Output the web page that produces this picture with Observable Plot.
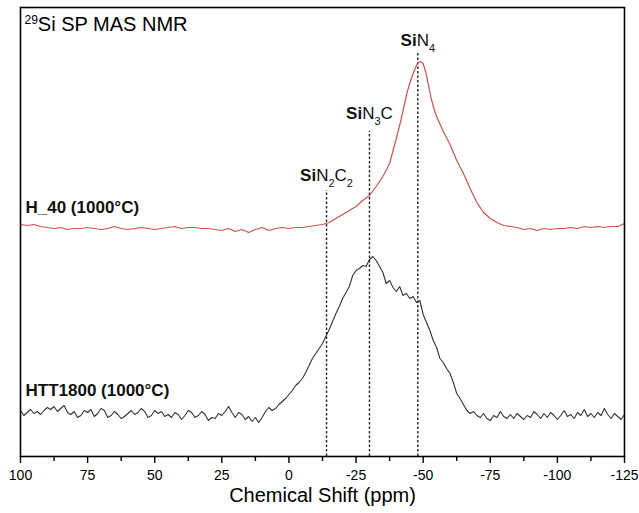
<!DOCTYPE html>
<html><head><meta charset="utf-8">
<script src="https://cdn.jsdelivr.net/npm/d3@7"></script>
<script src="https://cdn.jsdelivr.net/npm/@observablehq/plot@0.6"></script>
<style>
body{margin:0;background:#fff;}
#chart svg{font-family:"Liberation Sans", Arial, sans-serif;}
</style></head><body><div id="chart"></div>
<script>
// Spectra: [chemical shift (ppm), intensity relative to own baseline (a.u.)]
const h40 = [[100,4],[97.5,3],[95,4],[92.5,2],[90,1],[87.5,0],[85,1],[82.5,-1],[80,0],[77.5,0],[75,1],[72.5,0],[70,-1],[67.5,0],[65,2],[62.5,0],[60,-1],[57.5,0],[55,1],[52.5,0],[50,-1],[47.5,0],[45,1],[42.5,2],[40,0],[37.5,1],[35,1],[32.5,0],[30,0],[27.5,-1],[25,-2],[22.5,0],[20,-3],[17.5,-1],[15,-4],[12.5,-1],[10,1],[7.5,-2],[5,0],[2.5,1],[0,0],[-2.5,1],[-5,1],[-7.5,2],[-10,3],[-12.5,4],[-15,6],[-17.5,10],[-20,14],[-22.5,18],[-25,22],[-27.5,28],[-30,33],[-32.5,42],[-35,52],[-37.5,65],[-40,90],[-41.5,106],[-42.5,118],[-44,136],[-45,145],[-46,153],[-47,160],[-48,166],[-49,167],[-50,165],[-51,156],[-52,143],[-53,130],[-54,120],[-55,112],[-57.5,97],[-60,84],[-62.5,68],[-65,55],[-67.5,40],[-70,26],[-72.5,16],[-75,10],[-77.5,6],[-80,3],[-82.5,2],[-85,1],[-87.5,-1],[-90,0],[-92.5,-2],[-95,0],[-97.5,-1],[-100,0],[-102.5,0],[-105,1],[-107.5,0],[-110,2],[-112.5,1],[-115,2],[-117.5,1],[-120,2],[-122.5,2],[-125,5]];

const htt1800 = [[100,4],[98.75,-1],[97.5,2],[96.25,5],[95,1],[93.75,3],[92.5,0],[91.25,4],[90,7],[88.75,5],[87.5,8],[86.25,3],[85,6],[83.75,9],[82.5,2],[81.25,0],[80,3],[78.75,-3],[77.5,-1],[76.25,4],[75,2],[73.75,5],[72.5,-2],[71.25,1],[70,6],[68.75,4],[67.5,-3],[66.25,-1],[65,3],[63.75,0],[62.5,-4],[61.25,-2],[60,1],[58.75,4],[57.5,0],[56.25,2],[55,6],[53.75,3],[52.5,-3],[51.25,-1],[50,4],[48.75,1],[47.5,3],[46.25,-2],[45,0],[43.75,-3],[42.5,2],[41.25,0],[40,-5],[38.75,-1],[37.5,4],[36.25,2],[35,-3],[33.75,-1],[32.5,3],[31.25,0],[30,-6],[28.75,-3],[27.5,-4],[26.25,1],[25,-1],[23.75,3],[22.5,8],[21.25,2],[20,-3],[18.75,2],[17.5,0],[16.25,-5],[15,-2],[13.75,-7],[12.5,-3],[11.25,-8],[10,-3],[8.75,3],[7.5,7],[6.25,4],[5,6],[3.75,10],[2.5,13],[1.25,16],[0,20],[-1.25,24],[-2.5,29],[-3.75,32],[-5,36],[-6.25,42],[-7.5,49],[-8.75,56],[-10,61],[-11.25,66],[-12.5,71],[-13.75,78],[-15,85],[-16.25,93],[-17.5,101],[-18.75,108],[-20,116],[-21.25,122],[-22.5,128],[-23.75,139],[-25,144],[-26.25,146],[-27.5,149],[-28.75,148],[-30,155],[-31.25,158],[-32.5,154],[-33.75,148],[-35,142],[-36.25,131],[-37.5,134],[-38.75,127],[-40,123],[-41.25,128],[-42.5,119],[-43.75,121],[-45,116],[-46.25,118],[-47.5,112],[-48.75,114],[-50,100],[-51.25,92],[-52.5,84],[-53.75,74],[-55,67],[-56.25,56],[-57.5,52],[-58.75,46],[-60,41],[-61.25,32],[-62.5,21],[-63.75,16],[-65,10],[-66.25,4],[-67.5,1],[-68.75,3],[-70,-1],[-71.25,-3],[-72.5,1],[-73.75,-4],[-75,-6],[-76.25,-1],[-77.5,-3],[-78.75,3],[-80,-2],[-81.25,-4],[-82.5,0],[-83.75,-4],[-85,1],[-86.25,-2],[-87.5,-5],[-88.75,-1],[-90,-3],[-91.25,3],[-92.5,0],[-93.75,-4],[-95,1],[-96.25,-3],[-97.5,2],[-98.75,-1],[-100,-5],[-101.25,-1],[-102.5,4],[-103.75,-2],[-105,0],[-106.25,-4],[-107.5,2],[-108.75,-1],[-110,5],[-111.25,-2],[-112.5,1],[-113.75,-3],[-115,2],[-116.25,-1],[-117.5,6],[-118.75,0],[-120,-4],[-121.25,1],[-122.5,-2],[-123.75,-5],[-125,0]];

const seriesNames = ["H_40 (1000°C)", "HTT1800 (1000°C)"];
const seriesOffsets = [228, 42];
const seriesLabelY = [249, 66];

const peakNames = ["SiN2C2", "SiN3C", "SiN4"];
const peakShifts = [-14, -30, -48];
const peakLineTops = [266, 325, 403];
const peakLabelY = [281, 343, 416];

const majorTicks = [100, 75, 50, 25, 0, -25, -50, -75, -100, -125];
const minorTicks = [87.5, 62.5, 37.5, 12.5, -12.5, -37.5, -62.5, -87.5, -112.5];

const titleText = "29Si SP MAS NMR";
const xLabel = "Chemical Shift (ppm)";

const peaks = peakNames.map((name, i) => ({name, ppm: peakShifts[i], top: peakLineTops[i], ly: peakLabelY[i]}));
const seriesLabels = seriesNames.map((name, i) => ({name, ppm: 100, y: seriesLabelY[i]}));

const svg = Plot.plot({
  width: 639, height: 513,
  marginLeft: 20, marginRight: 15, marginTop: 7, marginBottom: 57,
  style: {fontFamily: '"Liberation Sans", Arial, sans-serif', background: "#fff", color: "#000", fontSize: "14px"},
  x: {domain: [100, -125]},
  y: {domain: [0, 449], axis: null},
  marks: [
    Plot.ruleX(peaks, {x: "ppm", y1: 0, y2: "top", stroke: "#222", strokeWidth: 1.4, strokeDasharray: "2.5,2"}),
    Plot.line(h40, {x: d => d[0], y: d => d[1] + seriesOffsets[0], stroke: "#d4504e", strokeWidth: 1.2}),
    Plot.line(htt1800, {x: d => d[0], y: d => d[1] + seriesOffsets[1], stroke: "#333", strokeWidth: 1.1}),
    Plot.frame({stroke: "#000", strokeWidth: 1.6}),
    Plot.axisX({ticks: majorTicks, tickSize: 7, tickPadding: 7, tickFormat: d => String(d), fontSize: 14, label: null, strokeWidth: 1.4}),
    Plot.axisX({ticks: minorTicks, tickSize: 5, tickFormat: () => "", label: null, strokeWidth: 1.4}),
    Plot.text([xLabel], {frameAnchor: "bottom", dy: 45, fontSize: 20, fill: "#000"}),
    Plot.text([titleText], {frameAnchor: "top-left", dx: 4, dy: 9, textAnchor: "start", lineAnchor: "top", fontSize: 20, fill: "#000"}),
    Plot.text(seriesLabels, {x: "ppm", y: "y", text: "name", textAnchor: "start", dx: 5, fontSize: 17, fontWeight: "bold", fill: "#111"}),
    Plot.text(peaks, {x: "ppm", y: "ly", text: "name", fontSize: 17, fill: "#111"})
  ]
});

// tick label size
d3.select(svg).selectAll("text").filter(function() { return majorTicks.map(String).includes(this.textContent); }).attr("font-size", 14);

// chemical formula subscripts and the isotope superscript
d3.select(svg).selectAll("text").filter(function() { return peakNames.includes(this.textContent); }).each(function() {
  const el = d3.select(this);
  const s = this.textContent;
  el.text("");
  let shift = 0;
  for (const m of s.matchAll(/Si|[A-Z]|\d+/g)) {
    const tok = m[0];
    const ts = el.append("tspan").text(tok);
    if (/\d/.test(tok)) { ts.attr("font-size", 11).attr("dy", 6 - shift); shift = 6; }
    else { if (shift) ts.attr("dy", -shift); shift = 0; if (tok === "Si") ts.attr("font-weight", "bold"); }
  }
});
d3.select(svg).selectAll("text").filter(function() { return this.textContent === titleText; }).each(function() {
  const el = d3.select(this);
  el.text("");
  el.append("tspan").attr("font-size", 12).attr("dy", -7).text("29");
  el.append("tspan").attr("dy", 7).text("Si SP MAS NMR");
});

document.getElementById("chart").appendChild(svg);
</script>
</body></html>
